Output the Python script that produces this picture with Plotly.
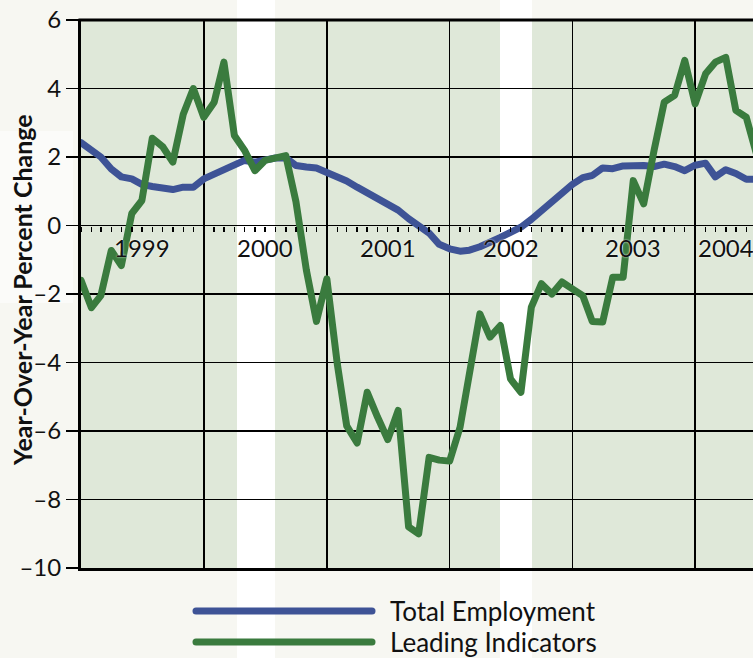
import plotly.graph_objects as go
import pandas as pd

# ---------------- data ----------------
months = pd.date_range("1999-01-01", periods=67, freq="MS")

total_employment = [
    2.42, 2.20, 2.00, 1.65, 1.42, 1.36, 1.20, 1.14, 1.10, 1.05, 1.12, 1.12,
    1.36, 1.49, 1.60, 1.73, 1.90, 1.85, 1.93, 1.97, 1.98, 1.75, 1.71, 1.68,
    1.55, 1.43, 1.30, 1.12, 0.95, 0.80, 0.65, 0.45, 0.20, 0.00, -0.22, -0.55,
    -0.68, -0.75, -0.72, -0.62, -0.50, -0.35, -0.20, -0.05, 0.18, 0.44, 0.68, 0.93,
    1.20, 1.40, 1.46, 1.68, 1.66, 1.74, 1.75, 1.75, 1.72, 1.79, 1.72, 1.60,
    1.76, 1.82, 1.42, 1.63, 1.52, 1.35, 1.35,
]

leading_indicators = [
    -1.60, -2.40, -2.05, -0.73, -1.17, 0.35, 0.73, 2.55, 2.30, 1.85, 3.25, 4.00,
    3.16, 3.60, 4.77, 2.63, 2.20, 1.60, 1.90, 1.97, 2.04, 0.70, -1.30, -2.80,
    -1.56, -4.04, -5.85, -6.35, -4.87, -5.60, -6.25, -5.40, -8.80, -9.00, -6.77, -6.85,
    -6.88, -5.89, -4.20, -2.58, -3.26, -2.92, -4.48, -4.87, -2.38, -1.70, -2.00, -1.65,
    -1.85, -2.05, -2.80, -2.82, -1.51, -1.51, 1.31, 0.63, 2.20, 3.60, 3.80, 4.82,
    3.55, 4.43, 4.77, 4.91, 3.36, 3.16, 2.10,
]

series_names = ["Total Employment", "Leading Indicators"]
series_colors = ["#3e5396", "#3a7b3e"]

year_labels = ["1999", "2000", "2001", "2002", "2003", "2004"]
year_label_dates = ["1999-07-01", "2000-07-01", "2001-07-01", "2002-07-01",
                    "2003-07-01", "2004-04-01"]
year_grid_dates = ["2000-01-01", "2001-01-01", "2002-01-01", "2003-01-01", "2004-01-01"]

y_tick_vals = [-10, -8, -6, -4, -2, 0, 2, 4, 6]
y_tick_text = ["\u201310", "\u20138", "\u20136", "\u20134", "\u20132", "0", "2", "4", "6"]

x_range = ["1999-01-01", "2004-06-21"]
y_range = [-10, 6]

FONT = "Lato"
PAGE_BG = "#f7f7f2"
PLOT_BG = "#dfe8d9"

# ---------------- figure ----------------
fig = go.Figure()

for name, vals, col in zip(series_names, [total_employment, leading_indicators], series_colors):
    fig.add_trace(go.Scatter(
        x=months, y=vals, mode="lines", name=name,
        line=dict(color=col, width=7), showlegend=False,
    ))

fig.add_trace(go.Scatter(x=[months[0]], y=[0], xaxis="x2", yaxis="y",
                         mode="markers", marker=dict(opacity=0), showlegend=False,
                         hoverinfo="skip"))

W, H = 753, 658
L, R, T, B = 81, 0, 20, 90
pw = W - L - R
ph = H - T - B

def px_x(p):
    return (p - L) / pw

def px_y(p):
    return (H - B - p) / ph

shapes = [
    dict(type="rect", xref="paper", yref="paper", x0=0, x1=1, y0=0, y1=1,
         fillcolor=PLOT_BG, line=dict(width=0), layer="below"),
    dict(type="rect", xref="paper", yref="paper", x0=px_x(237), x1=px_x(275),
         y0=-0.3, y1=1.2, fillcolor="white", line=dict(width=0), layer="below"),
    dict(type="rect", xref="paper", yref="paper", x0=px_x(500), x1=px_x(532),
         y0=-0.3, y1=1.2, fillcolor="white", line=dict(width=0), layer="below"),
    dict(type="rect", xref="paper", yref="paper", x0=px_x(0), x1=px_x(73),
         y0=px_y(303), y1=px_y(131), fillcolor="#fbfbf9", line=dict(width=0), layer="below"),
    dict(type="line", xref="paper", yref="paper", x0=px_x(79), x1=1.01, y0=1, y1=1,
         line=dict(color="black", width=3), layer="above"),
    dict(type="line", xref="paper", yref="paper", x0=px_x(196), x1=px_x(372),
         y0=px_y(611), y1=px_y(611), line=dict(color=series_colors[0], width=7)),
    dict(type="line", xref="paper", yref="paper", x0=px_x(196), x1=px_x(372),
         y0=px_y(642), y1=px_y(642), line=dict(color=series_colors[1], width=7)),
]

annotations = []
for lab, d in zip(year_labels, year_label_dates):
    annotations.append(dict(
        x=d, y=0, xref="x", yref="y", text=lab, showarrow=False,
        yanchor="top", yshift=-5,
        font=dict(family=FONT, size=24, color="#111111", shadow="0px 0px 2px white"),
    ))

for name, ypx in zip(series_names, [611, 642]):
    annotations.append(dict(
        x=px_x(388), y=px_y(ypx), xref="paper", yref="paper", text=name,
        showarrow=False, xanchor="left", yanchor="middle",
        font=dict(family=FONT, size=26, color="#111111"),
    ))

annotations.append(dict(
    x=px_x(22), y=px_y(290), xref="paper", yref="paper",
    text="<b>Year-Over-Year Percent Change</b>", textangle=-90, showarrow=False,
    xanchor="center", yanchor="middle",
    font=dict(family=FONT, size=25, color="#111111"),
))

annotations.append(dict(
    x=px_x(270), y=px_y(-4), xref="paper", yref="paper",
    text="<b>Employment</b>", showarrow=False, xanchor="left", yanchor="bottom",
    font=dict(family=FONT, size=28, color="#111111"),
))

fig.update_layout(
    width=W, height=H, autosize=False,
    margin=dict(l=L, r=R, t=T, b=B, pad=0),
    paper_bgcolor=PAGE_BG,
    plot_bgcolor="rgba(0,0,0,0)",
    shapes=shapes,
    annotations=annotations,
    showlegend=False,
    xaxis=dict(
        type="date", range=x_range, tickmode="array", tickvals=year_grid_dates,
        showticklabels=False, ticks="", showgrid=True, gridcolor="black", gridwidth=1.5,
        showline=True, linecolor="black", linewidth=3, zeroline=False,
        fixedrange=True,
    ),
    xaxis2=dict(
        type="date", overlaying="x", matches="x", anchor="free",
        position=(0 - y_range[0]) / (y_range[1] - y_range[0]),
        side="bottom", tickmode="linear", tick0="1999-01-01", dtick="M1",
        ticks="outside", ticklen=5, tickwidth=1.5, tickcolor="black",
        showticklabels=False, showgrid=False, showline=False, zeroline=False,
    ),
    yaxis=dict(
        range=y_range, tickmode="array", tickvals=y_tick_vals, ticktext=y_tick_text,
        ticks="outside", ticklen=12, tickwidth=1.5, tickcolor="black",
        showgrid=True, gridcolor="black", gridwidth=1.5, zeroline=False,
        showline=True, linecolor="black", linewidth=3,
        tickfont=dict(family=FONT, size=24, color="#111111"),
        fixedrange=True,
    ),
)

post_js = (
    "document.body.style.margin='0';document.body.style.padding='0';"
    "document.body.style.background='#f7f7f2';document.body.style.overflow='hidden';"
    "var st=document.createElement('style');"
    "st.textContent='.scatterlayer .js-line{stroke-linejoin:round;stroke-linecap:round;}"
    " .shapelayer path{stroke-linecap:round;}';"
    "document.head.appendChild(st);"
)

fig.write_html("out.html", config={"displayModeBar": False, "staticPlot": True},
               post_script=post_js)
